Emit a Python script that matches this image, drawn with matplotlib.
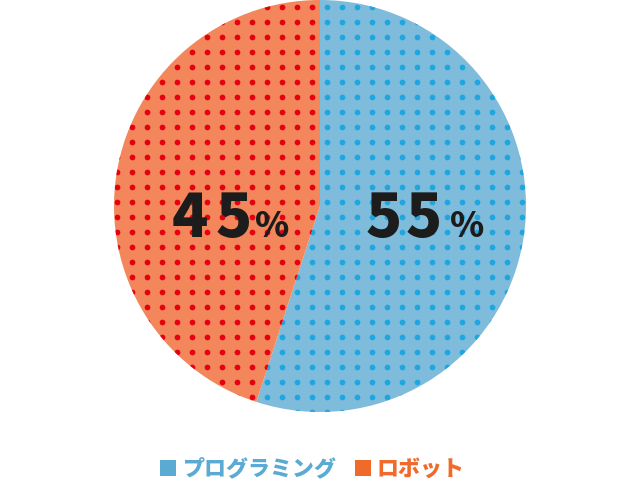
import numpy as np
import matplotlib
matplotlib.use("Agg")
import matplotlib.pyplot as plt

labels = ["プログラミング", "ロボット"]
values = [55, 45]
base_colors = ["#7fbbdb", "#f3865a"]
dot_colors = ["#1ea6e0", "#e50012"]
legend_colors = ["#5aaad4", "#f06b2b"]

W, H = 640, 480
fig = plt.figure(figsize=(6.4, 4.8), dpi=100)
ax = fig.add_axes([0, 0, 1, 1])

cx, cy, r = 320, 480 - 206, 206
wedges, _ = ax.pie(values, colors=base_colors, startangle=90, counterclock=False,
                   center=(cx, cy), radius=r, frame=True,
                   wedgeprops=dict(linewidth=0))
ax.set_xlim(0, W)
ax.set_ylim(0, H)
ax.set_aspect("equal")
ax.axis("off")

# dot pattern
gx = np.arange(12, W, 15)
gy = 480 - np.arange(7, H, 15)
X, Y = np.meshgrid(gx, gy)
for w, dc in zip(wedges, dot_colors):
    sc = ax.scatter(X.ravel(), Y.ravel(), s=17, color=dc, linewidths=0, zorder=3)
    sc.set_clip_path(w)

font = ["Noto Sans CJK JP", "DejaVu Sans"]
txt = "#1c1c1c"
def pct_label(chars, xs, y):
    for ch, x in zip(chars, xs):
        fs = 43 if ch != "%" else 25
        ax.text(x, y, ch, ha="center", va="baseline", fontsize=fs, fontweight="black",
                color=txt, family=font, zorder=5)

pct_label(str(values[1]) + "%", [190, 234, 272], 480 - 237)
pct_label(str(values[0]) + "%", [384, 424, 467], 480 - 237)

# legend
lx = [160, 355]
for x0, lab, col in zip(lx, labels, legend_colors):
    ax.add_patch(plt.Rectangle((x0, 480 - 476), 16, 16, color=col, linewidth=0))
    ax.text(x0 + 22, 480 - 469, lab, ha="left", va="center", fontsize=15.8,
            fontweight="black", color=col, family=font)

fig.savefig("out.png", dpi=100)
